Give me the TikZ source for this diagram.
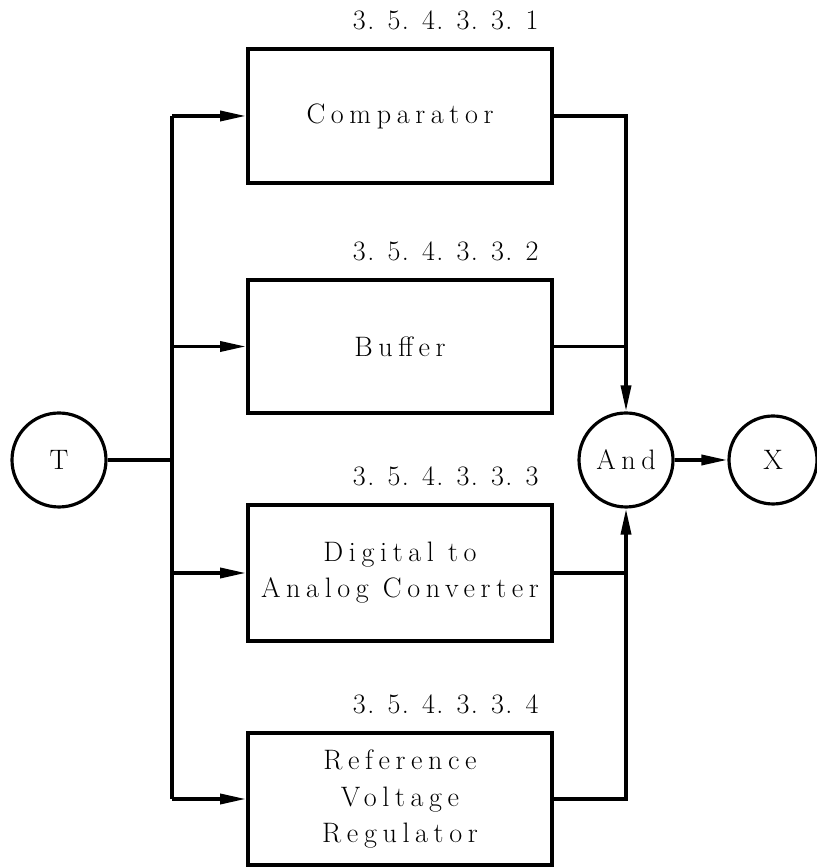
\documentclass[tikz,border=0pt]{standalone}
\usepackage{fontspec}
\setmainfont{Latin Modern Roman}[LetterSpace=20]
\usetikzlibrary{arrows.meta,positioning}
\newcommand{\spacedfont}{\fontsize{16}{20.5}\selectfont}

\begin{document}
\begin{tikzpicture}[
		unitbox/.style={draw, line width=2.2pt, minimum width=6.08cm, align=center, font=\spacedfont},
		ring/.style={draw, circle, line width=1.8pt, inner sep=0pt, font=\spacedfont},
		tag/.style={inner sep=0pt, anchor=south east, font=\spacedfont\addfontfeature{LetterSpace=5}},
		wire/.style={line width=2pt},
		feed/.style={line width=2pt, -{Triangle[length=0.52cm, width=0.2cm]}}
	]
			%%%%% START %%%%%
			\useasboundingbox (0, 0) rectangle (16.32, 17.36);
			
			\node[ring, minimum size=1.88cm] (T) at (1.18, 8.16) {T};
			\coordinate (bus) at (3.44, 8.16);
			
			\node[unitbox, minimum height=2.68cm] (comp) at (8, 15.04) {Comparator};
			\node[unitbox, minimum height=2.66cm] (buf) at (8, 10.43) {Buffer};
			\node[unitbox, minimum height=2.72cm] (dac) at (8, 5.9) {Digital to\\Analog Converter};
			\node[unitbox, minimum height=2.64cm] (ref) at (8, 1.38) {Reference\\Voltage\\Regulator};
			
			\node[tag] (compno) at ([xshift=-0.3cm, yshift=0.34cm]comp.north east) {3. 5. 4. 3. 3. 1};
			\node[tag] (bufno) at ([xshift=-0.3cm, yshift=0.34cm]buf.north east) {3. 5. 4. 3. 3. 2};
			\node[tag] (dacno) at ([xshift=-0.3cm, yshift=0.34cm]dac.north east) {3. 5. 4. 3. 3. 3};
			\node[tag] (refno) at ([xshift=-0.3cm, yshift=0.34cm]ref.north east) {3. 5. 4. 3. 3. 4};
			
			\node[ring, minimum size=1.88cm] (and) at (12.52, 8.16) {And};
			\node[ring, minimum size=1.76cm] (X) at (15.46, 8.16) {X};
			
			% input side
			\draw[wire] (T) -- (bus);
			\draw[wire] (bus |- comp.west) -- (bus |- ref.west);
			\draw[feed] (bus |- comp.west) -- (comp.west);
			\draw[feed] (bus |- buf.west) -- (buf.west);
			\draw[feed] (bus |- dac.west) -- (dac.west);
			\draw[feed] (bus |- ref.west) -- (ref.west);
			
			% output side
			\draw[feed] (comp.east) -| (and.north);
			\draw[wire] (buf.east) -- (buf.east -| and.north);
			\draw[feed] (ref.east) -| (and.south);
			\draw[wire] (dac.east) -- (dac.east -| and.south);
			\draw[feed] (and) -- (X);
			%%%%% END %%%%%
\end{tikzpicture}
\end{document}
